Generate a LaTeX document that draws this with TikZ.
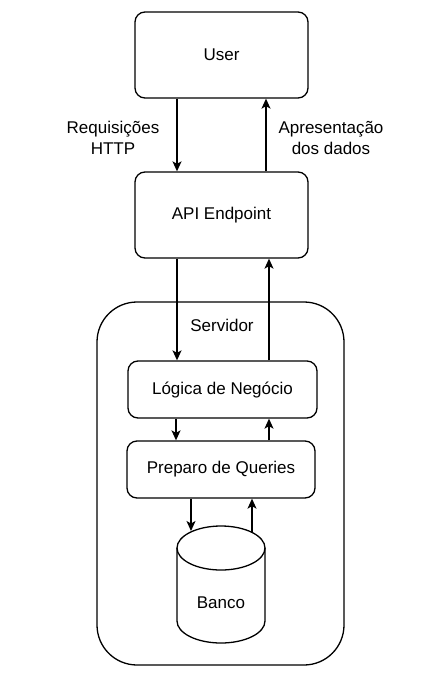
\documentclass[tikz,border=0pt]{standalone}
\usepackage{fontspec}
\setmainfont{Liberation Sans}
\usetikzlibrary{arrows.meta}
\begin{document}
\begin{tikzpicture}[x=1pt,y=-1pt,
  every node/.style={font=\fontsize{17}{21.5}\selectfont},
  box/.style={draw,line width=1.3pt,rounded corners=10pt,inner sep=0pt},
  arr/.style={line width=1.3pt,-{Stealth[length=10pt,width=9pt,inset=2.5pt]}},
  lbl/.style={align=center}]
\useasboundingbox (0,0) rectangle (439,683);
% container
\draw[line width=1.3pt,rounded corners=40pt] (97,302) rectangle (344,665);
\node (srv) at (222,325) {Servidor};
% boxes
\node[box,minimum width=173pt,minimum height=86pt] (user) at (221.5,55) {User};
\node[box,minimum width=173pt,minimum height=86pt] (api) at (221.5,215) {API Endpoint};
\node[box,minimum width=189pt,minimum height=57pt] (log) at (222.5,389.5) {Lógica de Negócio};
\node[box,minimum width=188pt,minimum height=57pt] (prep) at (221,469.5) {Preparo de Queries};
% database cylinder
\draw[line width=1.3pt] (221,548) ellipse[x radius=44,y radius=22];
\draw[line width=1.3pt] (177,548) -- (177,621) arc[start angle=180,end angle=0,x radius=44,y radius=22] -- (265,548);
\node (db) at (221,603) {Banco};
% labels
\node[lbl] (l1) at (113,138) {Requisições\\HTTP};
\node[lbl] (l2) at (331,138) {Apresentação\\dos dados};
% arrows
\draw[arr] (user.south -| 177,0) -- (api.north -| 177,0);
\draw[arr] (api.north -| 266,0) -- (user.south -| 266,0);
\draw[arr] (api.south -| 177,0) -- (log.north -| 177,0);
\draw[arr] (log.north -| 269,0) -- (api.south -| 269,0);
\draw[arr] (log.south -| 176,0) -- (prep.north -| 176,0);
\draw[arr] (prep.north -| 269,0) -- (log.south -| 269,0);
\coordinate (dbin) at (191,531);
\coordinate (dbout) at (252,532);
\draw[arr] (prep.south -| dbin) -- (dbin);
\draw[arr] (dbout) -- (prep.south -| dbout);
\end{tikzpicture}
\end{document}
